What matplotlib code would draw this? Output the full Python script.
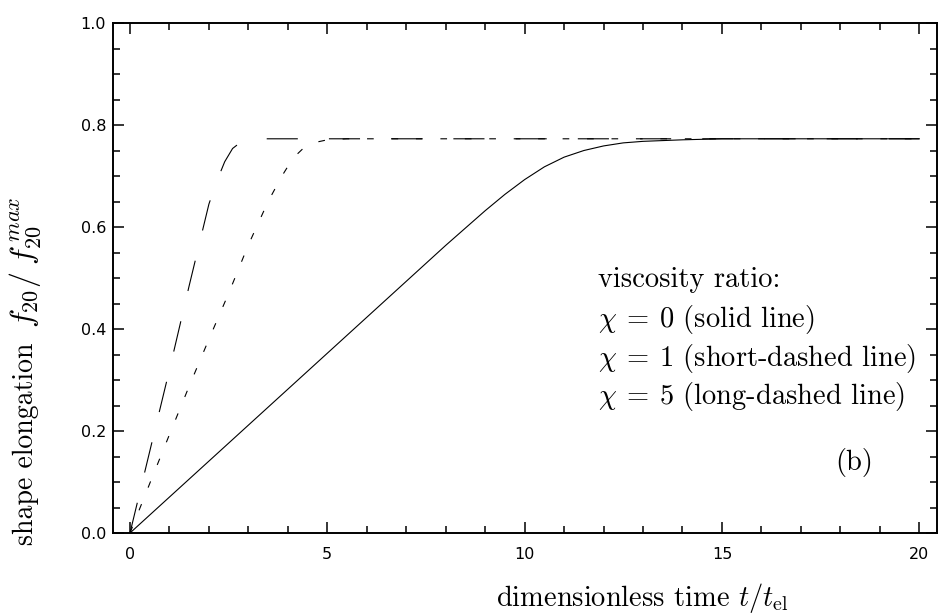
import numpy as np
import matplotlib
matplotlib.use("Agg")
import matplotlib.pyplot as plt
from matplotlib.ticker import MultipleLocator

plt.rcParams['mathtext.fontset'] = 'cm'
plt.rcParams['font.family'] = ['DejaVu Sans']

# chi = 0 (solid line)
t_solid = [0, 2, 4, 6, 8, 9, 9.5, 10, 10.5, 11, 11.5, 12, 12.5, 13, 14, 15, 20]
f_solid = [0, 0.141, 0.282, 0.423, 0.564, 0.632, 0.664, 0.693, 0.718, 0.737,
           0.750, 0.759, 0.765, 0.768, 0.771, 0.773, 0.773]

# chi = 1 (short-dashed line)
t_short = [0, 0.5, 1, 1.5, 2, 2.5, 3, 3.5, 3.85, 4.13, 4.4, 4.7, 5.0, 5.5, 20]
f_short = [0, 0.097, 0.193, 0.288, 0.38, 0.47, 0.565, 0.65, 0.70, 0.735,
           0.755, 0.766, 0.771, 0.773, 0.773]

# chi = 5 (long-dashed line)
t_long = [0, 0.5, 1, 1.5, 2, 2.2, 2.4, 2.6, 2.8, 3.0, 3.3, 20]
f_long = [0, 0.16, 0.32, 0.485, 0.645, 0.69, 0.728, 0.754, 0.766, 0.771, 0.773, 0.773]

legend_lines = ["viscosity ratio:",
                r"$\chi\:=\:0$ (solid line)",
                r"$\chi\:=\:1$ (short-dashed line)",
                r"$\chi\:=\:5$ (long-dashed line)"]
legend_y = [0.496, 0.418, 0.343, 0.267]

fig = plt.figure(figsize=(9.41, 6.14), dpi=100)
ax = fig.add_axes([0.1201, 0.1319, 0.8757, 0.8306])

ax.plot(t_solid, f_solid, color='black', lw=0.8)
ax.plot(t_short, f_short, color='black', lw=0.8, dashes=(6, 16))
ax.plot(t_long, f_long, color='black', lw=0.8, dashes=(28, 28))

ax.set_xlim(-0.43, 20.45)
ax.set_ylim(0, 1.0)
ax.xaxis.set_major_locator(MultipleLocator(5))
ax.xaxis.set_minor_locator(MultipleLocator(1))
ax.yaxis.set_major_locator(MultipleLocator(0.2))
ax.yaxis.set_minor_locator(MultipleLocator(0.05))
ax.yaxis.set_major_formatter(plt.FormatStrFormatter('%.1f'))

ax.tick_params(which='both', direction='in', top=True, right=True, width=1.1)
ax.tick_params(which='major', length=8)
ax.tick_params(which='minor', length=5)
ax.tick_params(axis='x', which='major', pad=10, labelsize=11.5)
ax.tick_params(axis='y', which='major', pad=5, labelsize=11.5)
for s in ax.spines.values():
    s.set_linewidth(1.4)

for txt, yy in zip(legend_lines, legend_y):
    ax.text(11.87, yy, txt, fontfamily='cmr10', fontsize=20.5, ha='left', va='center')
ax.text(18.35, 0.139, "(b)", fontfamily='cmr10', fontsize=20.5, ha='center', va='center')

fig.text(642 / 941, 1 - 598 / 614, r"dimensionless time $t/t_{\rm el}$",
         fontfamily='cmr10', fontsize=20.5, ha='center', va='center')
fig.text(33 / 941, 1 - 545 / 614, "shape elongation",
         fontfamily='cmr10', fontsize=20, ha='left', va='baseline',
         rotation=90, rotation_mode='anchor')
fig.text(33 / 941, 1 - 328 / 614, r"$f_{20}/\;f_{20}^{\,max}$",
         fontsize=23, ha='left', va='baseline',
         rotation=90, rotation_mode='anchor')

fig.savefig("out.png", dpi=100)
